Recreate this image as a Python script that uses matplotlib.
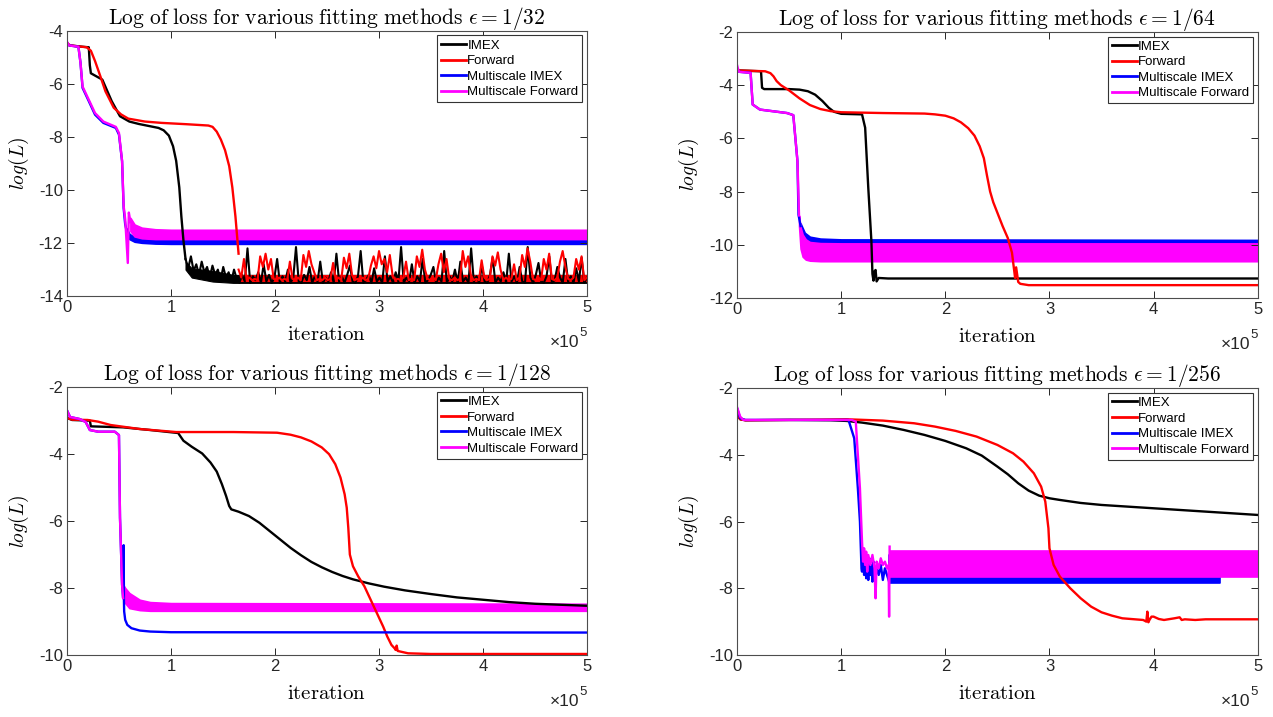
import numpy as np
import matplotlib
matplotlib.use("Agg")
import matplotlib.pyplot as plt
from matplotlib.lines import Line2D

plt.rcParams['font.family'] = ['Liberation Sans', 'DejaVu Sans']
plt.rcParams['mathtext.fontset'] = 'cm'

BLACK, RED, BLUE, MAG = '#000000', '#FF0000', '#0000FF', '#FF00FF'
LABELS = ['IMEX', 'Forward', 'Multiscale IMEX', 'Multiscale Forward']
TITLES = ['1/32', '1/64', '1/128', '1/256']
YLIMS = [(-14, -4), (-12, -2), (-10, -2), (-10, -2)]

# ---------------- Panel 1 : eps = 1/32 (x in units of 1e5 iterations) ----------------
p1_imex_x = [0, 0.03, 0.15, 0.21, 0.22, 0.23, 0.34, 0.43, 0.51, 0.6, 0.69, 0.88, 0.93, 0.98, 1.02, 1.05, 1.08, 1.1, 1.12, 1.14]
p1_imex_y = [-4.5, -4.55, -4.6, -4.62, -5.3, -5.6, -5.84, -6.65, -7.22, -7.42, -7.51, -7.66, -7.75, -7.95, -8.35, -8.9, -9.9, -11.0, -11.9, -12.6]
p1_imex_noise = [-12.6, -12.95, -12.5, -13.05, -12.8, -13.2, -12.7, -13.1, -12.9, -13.3,
                 -12.85, -13.2, -13.0, -13.4, -12.9, -13.3, -13.1, -13.45, -13.0, -13.35,
                 -13.5, -13.2, -13.45, -12.2, -13.5, -13.25, -13.4, -13.1, -13.5, -12.8,
                 -13.45, -13.2, -13.5, -13.3, -12.6, -13.5, -13.25, -13.45, -13.0, -13.5,
                 -13.3, -12.15, -13.45, -13.5, -13.2, -13.4, -12.9, -13.5, -13.25, -13.45,
                 -12.7, -13.5, -13.3, -13.45, -13.1, -13.5, -12.4, -13.45, -13.25, -13.5,
                 -13.2, -12.85, -13.45, -13.5, -13.25, -12.3, -13.5, -13.4, -13.2, -13.5,
                 -12.95, -13.45, -13.3, -13.5, -12.5, -13.45, -13.25, -13.5, -13.1, -13.45,
                 -12.15, -13.5, -13.3, -13.45, -12.8, -13.5, -13.25, -13.45, -12.6, -13.5,
                 -13.4, -13.2, -12.9, -13.5, -13.3, -13.45, -12.3, -13.5, -13.25, -13.45,
                 -13.0, -13.5, -12.7, -13.45, -13.3, -13.5, -12.2, -13.45, -13.25, -13.5,
                 -12.85, -13.45, -13.5, -13.2, -12.55, -13.5, -13.3, -13.45, -13.1, -13.5,
                 -12.4, -13.45, -13.25, -13.5, -12.9, -13.45, -13.5, -12.15, -13.3, -13.5,
                 -13.2, -12.75, -13.45, -13.5, -13.25, -12.5, -13.5, -13.4, -12.9, -13.3,
                 -13.5, -12.6, -13.45, -13.25, -13.5, -12.95, -13.45, -12.55, -13.5, -13.3]
p1_imex_floor_x = [1.14, 1.2, 1.4, 1.6, 5.0]
p1_imex_floor_hi = [-12.7, -12.95, -13.05, -13.2, -13.2]
p1_imex_floor_lo = [-13.0, -13.3, -13.45, -13.5, -13.5]
p1_fwd_x = [0, 0.03, 0.19, 0.23, 0.27, 0.32, 0.37, 0.45, 0.52, 0.59, 0.75, 0.91, 1.15, 1.36, 1.4, 1.44, 1.48, 1.52, 1.56, 1.59, 1.62, 1.65]
p1_fwd_y = [-4.45, -4.55, -4.62, -4.75, -5.14, -5.7, -6.28, -6.9, -7.15, -7.31, -7.42, -7.47, -7.52, -7.57, -7.62, -7.8, -8.1, -8.5, -9.1, -9.9, -11.0, -12.4]
p1_fwd_noise = [-13.0, -13.3, -12.6, -13.4, -13.3, -13.4, -13.35, -13.4, -12.5, -12.9,
                -12.4, -13.0, -12.6, -13.35, -13.4, -13.3, -13.4, -13.35, -13.4, -12.7,
                -13.35, -13.4, -13.3, -13.4, -12.45, -12.9, -12.3, -12.8, -13.1, -13.4,
                -13.35, -13.4, -13.3, -13.4, -13.35, -12.75, -13.4, -13.3, -13.4, -12.55,
                -12.95, -12.4, -13.2, -13.4, -13.35, -13.4, -13.3, -13.4, -13.35, -12.85,
                -12.5, -12.95, -12.3, -12.8, -12.6, -13.1, -12.45, -13.2, -13.4, -13.35,
                -13.4, -13.3, -12.7, -13.4, -13.35, -13.4, -12.5, -12.9, -12.25, -13.0,
                -13.35, -13.4, -13.3, -13.4, -12.8, -12.4, -13.1, -12.6, -13.35, -13.4,
                -13.3, -13.4, -13.35, -12.3, -12.9, -12.5, -13.2, -13.4, -13.35, -13.4,
                -12.65, -13.3, -13.4, -13.35, -12.5, -12.85, -12.35, -13.0, -13.4, -13.3,
                -13.4, -13.35, -12.8, -13.4, -13.3, -12.45, -12.9, -12.2, -12.7, -13.35,
                -13.4, -13.3, -13.4, -12.6, -13.0, -12.4, -13.35, -13.4, -13.3, -12.7,
                -12.3, -12.9, -13.35, -13.4, -13.3, -12.6, -13.0, -12.5, -13.4, -13.3]
p1_fwd_floor_x = [1.66, 5.0]
p1_fwd_floor_hi = [-13.22, -13.22]
p1_fwd_floor_lo = [-13.42, -13.42]
p1_msi_x = [0, 0.02, 0.11, 0.13, 0.15, 0.21, 0.27, 0.35, 0.47, 0.5, 0.53, 0.545, 0.56, 0.575]
p1_msi_y = [-4.45, -4.55, -4.6, -5.2, -6.15, -6.65, -7.16, -7.47, -7.66, -7.91, -8.92, -10.68, -11.3, -11.56]
p1_msi_band_x = [0.575, 0.6, 0.65, 0.72, 0.85, 1.0, 5.0]
p1_msi_band_hi = [-11.45, -11.65, -11.78, -11.83, -11.85, -11.85, -11.85]
p1_msi_band_lo = [-11.6, -11.85, -11.95, -11.99, -12.02, -12.03, -12.03]
p1_msf_x = [0, 0.01, 0.02, 0.11, 0.13, 0.15, 0.21, 0.27, 0.35, 0.47, 0.5, 0.53, 0.545, 0.56, 0.585, 0.595, 0.61]
p1_msf_y = [-4.4, -4.5, -4.55, -4.6, -5.2, -6.1, -6.6, -7.1, -7.42, -7.62, -7.85, -8.9, -10.6, -11.1, -12.75, -10.85, -11.2]
p1_msf_band_x = [0.61, 0.65, 0.72, 0.85, 1.0, 5.0]
p1_msf_band_hi = [-11.05, -11.3, -11.42, -11.48, -11.5, -11.5]
p1_msf_band_lo = [-11.55, -11.75, -11.82, -11.85, -11.85, -11.85]

# ---------------- Panel 2 : eps = 1/64 ----------------
p2_imex_x = [0, 0.02, 0.23, 0.24, 0.26, 0.5, 0.6, 0.68, 0.75, 0.82, 0.88, 0.93, 1.0, 1.2, 1.23, 1.26, 1.29, 1.3, 1.31, 1.32, 1.33, 1.34, 1.36, 1.45, 5.0]
p2_imex_y = [-3.42, -3.45, -3.48, -4.1, -4.15, -4.15, -4.17, -4.23, -4.36, -4.6, -4.85, -5.0, -5.08, -5.1, -5.6, -7.86, -9.87, -11.1, -11.35, -11.0, -10.95, -11.38, -11.25, -11.27, -11.27]
p2_fwd_x = [0, 0.02, 0.27, 0.32, 0.35, 0.38, 0.42, 0.5, 0.6, 0.7, 0.8, 0.9, 1.0, 1.4, 1.8, 1.9, 2.0, 2.08, 2.15, 2.22, 2.28, 2.33, 2.37, 2.4, 2.43, 2.46, 2.5, 2.55, 2.6, 2.64, 2.67, 2.68, 2.7, 2.72, 2.8, 5.0]
p2_fwd_y = [-3.42, -3.45, -3.48, -3.55, -3.67, -3.85, -4.0, -4.2, -4.5, -4.75, -4.9, -4.98, -5.02, -5.05, -5.07, -5.1, -5.15, -5.25, -5.4, -5.62, -5.9, -6.3, -6.75, -7.4, -8.0, -8.4, -8.8, -9.3, -9.75, -10.3, -11.25, -10.85, -11.4, -11.47, -11.52, -11.52]
p2_msi_x = [0, 0.02, 0.13, 0.15, 0.22, 0.48, 0.54, 0.58, 0.59, 0.61]
p2_msi_y = [-3.4, -3.5, -3.54, -4.73, -4.92, -5.05, -5.13, -6.86, -8.87, -9.3]
p2_msi_band_x = [0.61, 0.65, 0.7, 0.8, 1.0, 5.0]
p2_msi_band_hi = [-9.2, -9.55, -9.7, -9.77, -9.8, -9.82]
p2_msi_band_lo = [-9.4, -9.8, -9.9, -9.94, -9.95, -9.95]
p2_msf_x = [0, 0.01, 0.02, 0.13, 0.15, 0.22, 0.48, 0.54, 0.58, 0.595]
p2_msf_y = [-3.25, -3.4, -3.5, -3.54, -4.73, -4.92, -5.05, -5.13, -6.86, -8.9]
p2_msf_band_x = [0.595, 0.61, 0.63, 0.66, 0.7, 0.8, 1.0, 5.0]
p2_msf_band_hi = [-8.9, -9.35, -9.62, -9.8, -9.9, -9.94, -9.95, -9.95]
p2_msf_band_lo = [-9.3, -10.15, -10.45, -10.56, -10.6, -10.62, -10.62, -10.62]

# ---------------- Panel 3 : eps = 1/128 ----------------
p3_imex_x = [0, 0.05, 0.22, 0.23, 0.54, 0.8, 1.07, 1.08, 1.12, 1.2, 1.3, 1.38, 1.44, 1.49, 1.53, 1.56, 1.58, 1.65, 1.75, 1.85, 1.95, 2.05, 2.15, 2.25, 2.35, 2.45, 2.55, 2.65, 2.75, 2.9, 3.05, 3.25, 3.5, 3.75, 4.0, 4.25, 4.5, 4.75, 5.0]
p3_imex_y = [-2.92, -2.98, -3.0, -3.17, -3.2, -3.28, -3.37, -3.42, -3.6, -3.78, -3.98, -4.25, -4.52, -4.9, -5.25, -5.55, -5.65, -5.72, -5.85, -6.05, -6.3, -6.55, -6.8, -7.02, -7.22, -7.38, -7.52, -7.64, -7.74, -7.86, -7.96, -8.07, -8.18, -8.28, -8.35, -8.42, -8.47, -8.5, -8.53]
p3_fwd_x = [0, 0.05, 0.2, 0.3, 0.42, 0.7, 1.05, 1.6, 2.02, 2.15, 2.25, 2.35, 2.45, 2.52, 2.58, 2.63, 2.67, 2.69, 2.705, 2.72, 2.75, 2.8, 2.86, 2.92, 2.98, 3.04, 3.08, 3.12, 3.15, 3.16, 3.17, 3.18, 3.28, 3.5, 5.0]
p3_fwd_y = [-2.92, -2.97, -2.98, -3.03, -3.13, -3.25, -3.34, -3.34, -3.36, -3.42, -3.5, -3.62, -3.8, -4.0, -4.3, -4.7, -5.2, -5.6, -6.2, -7.0, -7.35, -7.65, -7.95, -8.35, -8.75, -9.15, -9.45, -9.7, -9.8, -9.85, -9.72, -9.88, -9.95, -9.97, -9.97]
p3_msi_x = [0, 0.03, 0.12, 0.18, 0.22, 0.3, 0.46, 0.5, 0.51, 0.53, 0.54, 0.545, 0.548, 0.55, 0.56, 0.58, 0.62, 0.7, 0.8, 1.0, 5.0]
p3_msi_y = [-2.69, -2.89, -2.95, -3.04, -3.28, -3.33, -3.33, -3.43, -5.9, -7.9, -8.3, -6.72, -8.4, -8.7, -8.95, -9.1, -9.2, -9.27, -9.3, -9.32, -9.33]
p3_msf_x = [0, 0.03, 0.12, 0.18, 0.22, 0.3, 0.46, 0.5, 0.51, 0.53, 0.54]
p3_msf_y = [-2.69, -2.89, -2.95, -3.04, -3.28, -3.33, -3.33, -3.43, -5.9, -7.9, -8.3]
p3_msf_band_x = [0.54, 0.56, 0.6, 0.7, 0.8, 1.0, 5.0]
p3_msf_band_hi = [-7.9, -8.0, -8.15, -8.35, -8.42, -8.45, -8.47]
p3_msf_band_lo = [-8.3, -8.45, -8.6, -8.66, -8.68, -8.68, -8.68]

# ---------------- Panel 4 : eps = 1/256 ----------------
p4_imex_x = [0, 0.03, 0.08, 0.5, 0.9, 1.05, 1.2, 1.4, 1.6, 1.8, 2.0, 2.2, 2.35, 2.5, 2.6, 2.7, 2.8, 2.9, 3.0, 3.1, 3.3, 3.5, 3.8, 4.1, 4.5, 5.0]
p4_imex_y = [-2.8, -2.93, -2.96, -2.95, -2.96, -2.98, -3.03, -3.12, -3.25, -3.4, -3.58, -3.8, -4.02, -4.35, -4.58, -4.85, -5.07, -5.22, -5.3, -5.35, -5.44, -5.5, -5.56, -5.62, -5.7, -5.8]
p4_fwd_x = [0, 0.03, 0.08, 0.5, 1.05, 1.4, 1.7, 1.9, 2.1, 2.3, 2.5, 2.65, 2.75, 2.85, 2.92, 2.96, 2.99, 3.0, 3.04, 3.1, 3.2, 3.3, 3.4, 3.5, 3.6, 3.7, 3.9, 3.93, 3.94, 3.95, 3.96, 3.98, 4.0, 4.05, 4.1, 4.2, 4.25, 4.27, 4.3, 4.4, 4.5, 5.0]
p4_fwd_y = [-2.8, -2.93, -2.96, -2.95, -2.93, -2.97, -3.05, -3.15, -3.28, -3.45, -3.7, -3.95, -4.2, -4.55, -4.95, -5.4, -6.2, -6.8, -7.3, -7.65, -8.0, -8.3, -8.55, -8.72, -8.82, -8.9, -8.95, -9.0, -8.7, -9.02, -8.95, -8.85, -8.85, -8.92, -8.95, -8.9, -8.87, -8.95, -8.93, -8.95, -8.93, -8.93]
p4_msi_x = [0, 0.03, 0.08, 1.07, 1.125, 1.16, 1.18, 1.195, 1.2, 1.21, 1.22, 1.23, 1.24, 1.25, 1.26, 1.27, 1.28, 1.29, 1.3, 1.31, 1.32, 1.34, 1.36, 1.38, 1.4, 1.42, 1.44, 1.46]
p4_msi_y = [-2.6, -2.9, -2.95, -2.95, -3.5, -5.0, -6.0, -7.4, -7.5, -6.8, -7.6, -7.0, -7.7, -7.2, -7.75, -7.1, -7.6, -7.3, -7.8, -7.2, -7.7, -7.4, -7.6, -7.3, -7.75, -7.4, -7.6, -7.8]
p4_msi_band_x = [1.46, 4.64]
p4_msi_band_hi = [-7.0, -7.0]
p4_msi_band_lo = [-7.85, -7.85]
p4_msf_x = [0, 0.03, 0.06, 1.1, 1.14, 1.18, 1.2, 1.21, 1.22, 1.23, 1.24, 1.25, 1.26, 1.28, 1.3, 1.32, 1.33, 1.34, 1.36, 1.38, 1.4, 1.42, 1.44, 1.455, 1.46, 1.465]
p4_msf_y = [-2.57, -2.85, -2.95, -2.95, -3.0, -5.0, -6.6, -7.2, -6.8, -7.3, -6.9, -7.5, -7.0, -7.3, -7.0, -7.4, -8.3, -7.2, -7.4, -7.1, -7.3, -7.2, -7.4, -7.3, -8.85, -6.75]
p4_msf_band_x = [1.465, 5.0]
p4_msf_band_hi = [-6.88, -6.88]
p4_msf_band_lo = [-7.65, -7.65]

AX_POS = [[0.0526, 0.587, 0.4085, 0.370],
          [0.579, 0.5845, 0.409, 0.371],
          [0.0526, 0.0865, 0.4085, 0.3735],
          [0.579, 0.0865, 0.409, 0.372]]

AXC = '#4d4d4d'
fig = plt.figure(figsize=(12.73, 7.17), dpi=100)
axes = [fig.add_axes(p) for p in AX_POS]
LW = 1.7

def style(ax, k):
    ax.set_xlim(0, 5)
    ax.set_ylim(*YLIMS[k])
    ax.set_xticks([0, 1, 2, 3, 4, 5])
    lo, hi = YLIMS[k]
    ax.set_yticks(np.arange(lo, hi + 1, 2))
    ax.set_yticklabels([str(int(v)) for v in np.arange(lo, hi + 1, 2)])
    ax.tick_params(direction='in', top=True, right=True, length=5, width=0.7,
                   labelsize=12, colors='#262626', pad=3)
    for s in ax.spines.values():
        s.set_color(AXC)
        s.set_linewidth(0.8)
    ax.set_title(r'$\mathrm{Log\ of\ loss\ for\ various\ fitting\ methods}\ \epsilon = %s$' % TITLES[k],
                 fontsize=15.5, pad=5)
    ax.set_xlabel(r'$\mathrm{iteration}$', fontsize=15)
    ax.xaxis.set_label_coords(0.5, -0.11)
    ax.set_ylabel(r'$log(L)$', fontsize=14)
    ax.yaxis.set_label_coords(-0.07, 0.5)
    ax.text(0.985, -0.175, '×10', transform=ax.transAxes, ha='right', va='center',
            fontsize=12.5, color='#262626')
    ax.text(1.0, -0.14, '5', transform=ax.transAxes, ha='right', va='center',
            fontsize=9.5, color='#262626')
    handles = [Line2D([], [], color=c, lw=2) for c in (BLACK, RED, BLUE, MAG)]
    leg = ax.legend(handles, LABELS, loc='upper right', fontsize=9.5, frameon=True,
                    fancybox=False, edgecolor='#333333', handlelength=1.9,
                    handletextpad=0.1, labelspacing=0.25, borderpad=0.3,
                    borderaxespad=0.35, framealpha=1)
    leg.get_frame().set_linewidth(0.8)

# Panel 1
ax = axes[0]
ax.plot(p1_imex_x, p1_imex_y, color=BLACK, lw=LW)
ax.fill_between(p1_imex_floor_x, p1_imex_floor_lo, p1_imex_floor_hi, color=BLACK, lw=0.8, edgecolor=BLACK)
ax.plot(np.linspace(1.14, 5.0, len(p1_imex_noise)), p1_imex_noise, color=BLACK, lw=1.5)
ax.plot(p1_fwd_x, p1_fwd_y, color=RED, lw=LW)
ax.fill_between(p1_fwd_floor_x, p1_fwd_floor_lo, p1_fwd_floor_hi, color=RED, lw=0.8, edgecolor=RED)
ax.plot(np.linspace(1.65, 5.0, len(p1_fwd_noise)), p1_fwd_noise, color=RED, lw=1.5)
ax.plot(p1_msi_x, p1_msi_y, color=BLUE, lw=LW)
ax.fill_between(p1_msi_band_x, p1_msi_band_lo, p1_msi_band_hi, color=BLUE, lw=1.2, edgecolor=BLUE)
ax.plot(p1_msf_x, p1_msf_y, color=MAG, lw=LW)
ax.fill_between(p1_msf_band_x, p1_msf_band_lo, p1_msf_band_hi, color=MAG, lw=1.2, edgecolor=MAG)

# Panel 2
ax = axes[1]
ax.plot(p2_imex_x, p2_imex_y, color=BLACK, lw=LW)
ax.plot(p2_fwd_x, p2_fwd_y, color=RED, lw=LW)
ax.plot(p2_msi_x, p2_msi_y, color=BLUE, lw=LW)
ax.fill_between(p2_msi_band_x, p2_msi_band_lo, p2_msi_band_hi, color=BLUE, lw=1.2, edgecolor=BLUE)
ax.plot(p2_msf_x, p2_msf_y, color=MAG, lw=LW)
ax.fill_between(p2_msf_band_x, p2_msf_band_lo, p2_msf_band_hi, color=MAG, lw=1.2, edgecolor=MAG)

# Panel 3
ax = axes[2]
ax.plot(p3_imex_x, p3_imex_y, color=BLACK, lw=LW)
ax.plot(p3_fwd_x, p3_fwd_y, color=RED, lw=LW)
ax.plot(p3_msi_x, p3_msi_y, color=BLUE, lw=LW)
ax.plot(p3_msf_x, p3_msf_y, color=MAG, lw=LW)
ax.fill_between(p3_msf_band_x, p3_msf_band_lo, p3_msf_band_hi, color=MAG, lw=1.2, edgecolor=MAG)

# Panel 4
ax = axes[3]
ax.plot(p4_imex_x, p4_imex_y, color=BLACK, lw=LW)
ax.plot(p4_fwd_x, p4_fwd_y, color=RED, lw=LW)
ax.plot(p4_msi_x, p4_msi_y, color=BLUE, lw=LW)
ax.fill_between(p4_msi_band_x, p4_msi_band_lo, p4_msi_band_hi, color=BLUE, lw=1.2, edgecolor=BLUE)
ax.plot(p4_msf_x, p4_msf_y, color=MAG, lw=LW)
ax.fill_between(p4_msf_band_x, p4_msf_band_lo, p4_msf_band_hi, color=MAG, lw=1.2, edgecolor=MAG)

for k, ax in enumerate(axes):
    style(ax, k)

fig.savefig('out.png', dpi=100, facecolor='white')
